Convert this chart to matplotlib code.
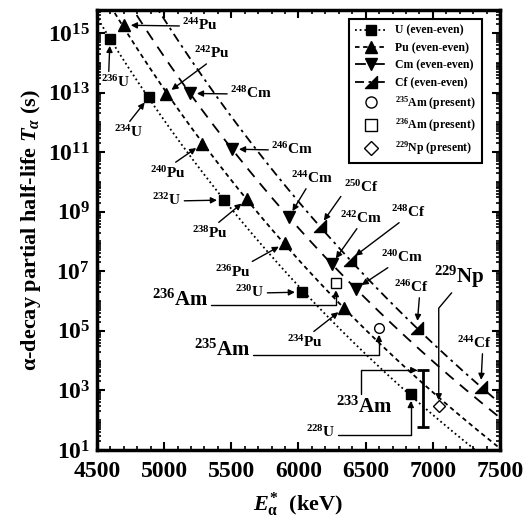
import numpy as np
import matplotlib.pyplot as plt
from matplotlib.lines import Line2D
from matplotlib.path import Path
from matplotlib.ticker import LogLocator, MultipleLocator, NullFormatter

plt.rcParams['font.family'] = 'Liberation Serif'
plt.rcParams['font.weight'] = 'bold'
plt.rcParams['mathtext.fontset'] = 'custom'
plt.rcParams['mathtext.rm'] = 'Liberation Serif:bold'
plt.rcParams['mathtext.bf'] = 'Liberation Serif:bold'
plt.rcParams['mathtext.it'] = 'Liberation Serif:bold:italic'

# even-even nuclei: alpha energy (keV) and log10 of partial half-life (s)
U_A = [236, 234, 232, 230, 228]
U_E = [4597, 4887, 5445, 6025, 6836]
U_logT = [14.80, 12.85, 9.39, 6.30, 2.88]

Pu_A = [244, 242, 240, 238, 236, 234]
Pu_E = [4700, 5013, 5281, 5616, 5899, 6338]
Pu_logT = [15.26, 12.95, 11.27, 9.42, 7.94, 5.77]

Cm_A = [248, 246, 244, 242, 240]
Cm_E = [5192, 5505, 5928, 6248, 6427]
Cm_logT = [12.97, 11.10, 8.82, 7.24, 6.41]

Cf_A = [250, 248, 246, 244]
Cf_E = [6159, 6382, 6881, 7357]
Cf_logT = [8.51, 7.38, 5.10, 3.12]

# present results
Am235_E, Am235_logT = 6598, 5.10
Am236_E, Am236_logT = 6278, 6.60
Np229_E, Np229_logT = 7044, 2.48
Am233_E, Am233_logT_lo, Am233_logT_hi = 6926, 1.77, 3.68

cf_marker = Path([(-1, -1), (1, -1), (1, 1), (-1, -1)],
                 [Path.MOVETO, Path.LINETO, Path.LINETO, Path.CLOSEPOLY])

fig = plt.figure(figsize=(5.24, 5.27), dpi=100)
ax = fig.add_axes([97 / 524, 77 / 527, 403 / 524, 440 / 527])

families = [
    ("U", U_E, U_logT, 's', 7.5, (1, 1.6)),
    ("Pu", Pu_E, Pu_logT, '^', 8, (2.5, 2)),
    ("Cm", Cm_E, Cm_logT, 'v', 8, (6, 4.5)),
    ("Cf", Cf_E, Cf_logT, cf_marker, 9, (5, 2.5, 1.5, 2.5)),
]

handles = []
Eg = np.linspace(4400, 7600, 400)
for name, E, logT, mk, ms, dash in families:
    coef = np.polyfit(1 / np.sqrt(E), logT, 1)
    ax.plot(Eg, 10 ** np.polyval(coef, 1 / np.sqrt(Eg)), color='k', lw=1.3,
            ls=(0, dash))
    ax.plot(E, 10 ** np.array(logT), ls='none', marker=mk, ms=ms, color='k')
    handles.append(Line2D([], [], color='k', lw=1.3, ls=(0, dash), marker=mk, ms=ms,
                          label=f"{name} (even-even)"))

ax.plot(Am235_E, 10 ** Am235_logT, marker='o', ms=7, mfc='white', mec='k', mew=1, ls='none')
ax.plot(Am236_E, 10 ** Am236_logT, marker='s', ms=7, mfc='white', mec='k', mew=1, ls='none')
ax.plot(Np229_E, 10 ** Np229_logT, marker='D', ms=6.5, mfc='white', mec='k', mew=1, ls='none')
handles.append(Line2D([], [], marker='o', ms=8, mfc='white', mec='k', ls='none',
                      label=r"$^{235}$Am (present)"))
handles.append(Line2D([], [], marker='s', ms=8, mfc='white', mec='k', ls='none',
                      label=r"$^{236}$Am (present)"))
handles.append(Line2D([], [], marker='D', ms=7, mfc='white', mec='k', ls='none',
                      label=r"$^{229}$Np (present)"))

# 233Am limits
lo, hi = 10 ** Am233_logT_lo, 10 ** Am233_logT_hi
mid = np.sqrt(lo * hi)
ax.errorbar([Am233_E], [mid], yerr=[[mid - lo], [hi - mid]], fmt='none', ecolor='k',
            elinewidth=2, capsize=4.5, capthick=2)


def label(text, xy, xytext, size=11, relpos=(0.5, 0.5), cs="arc3", shrinkB=5):
    ax.annotate(text, xy=xy, xytext=xytext, ha='center', va='center', fontsize=size,
                fontweight='bold',
                arrowprops=dict(arrowstyle='-|>', color='k', lw=1, mutation_scale=9,
                                shrinkA=0, shrinkB=shrinkB, connectionstyle=cs,
                                relpos=relpos))


def pt(E, logT, i):
    return (E[i], 10 ** logT[i])


# text position (keV, log10 s) and arrow start on the text box
U_txt = [((4641, 13.35), (0.25, 1)), ((4738, 11.67), (0.45, 1)), ((5021, 9.39), (1, 0.45)),
         ((5639, 6.30), (1, 0.45))]
for i, (p, rp) in enumerate(U_txt):
    label(rf"$^{{{U_A[i]}}}$U", pt(U_E, U_logT, i), (p[0], 10 ** p[1]), relpos=rp)
label(rf"$^{{{U_A[4]}}}$U", pt(U_E, U_logT, 4), (6167, 10 ** 1.60), relpos=(1, 0.35),
      cs="angle,angleA=0,angleB=90,rad=0")

Pu_txt = [((5267, 15.26), (0, 0.45)), ((5356, 14.32), (0.45, 0)), ((5029, 10.30), (0.6, 1)),
          ((5341, 8.28), (0.65, 1)), ((5512, 6.97), (0.9, 1)), ((6048, 4.62), (0.65, 1))]
for i, (p, rp) in enumerate(Pu_txt):
    label(rf"$^{{{Pu_A[i]}}}$Pu", pt(Pu_E, Pu_logT, i), (p[0], 10 ** p[1]), relpos=rp)

Cm_txt = [((5646, 12.98), (0, 0.45)), ((5952, 11.10), (0, 0.45)), ((6100, 10.13), (0.4, 0)),
          ((6465, 8.79), (0.45, 0)), ((6770, 7.48), (0.35, 0.15))]
for i, (p, rp) in enumerate(Cm_txt):
    label(rf"$^{{{Cm_A[i]}}}$Cm", pt(Cm_E, Cm_logT, i), (p[0], 10 ** p[1]), relpos=rp)

Cf_txt = [((6465, 9.83), (0, 0.15)), ((6815, 8.99), (0.35, 0)), ((6837, 6.47), (0.75, 0)),
          ((7306, 4.59), (0.75, 0))]
for i, (p, rp) in enumerate(Cf_txt):
    label(rf"$^{{{Cf_A[i]}}}$Cf", pt(Cf_E, Cf_logT, i), (p[0], 10 ** p[1]), relpos=rp)

label(r"$^{236}$Am", (Am236_E, 10 ** Am236_logT), (5118, 10 ** 6.03), size=15,
      relpos=(1, 0.25), cs="angle,angleA=0,angleB=90,rad=0")
label(r"$^{235}$Am", (Am235_E, 10 ** Am235_logT), (5430, 10 ** 4.36), size=15,
      relpos=(1, 0.25), cs="angle,angleA=0,angleB=90,rad=0")
label(r"$^{233}$Am", (Am233_E, hi), (6488, 10 ** 2.44), size=15,
      relpos=(0.44, 1), cs="angle,angleA=90,angleB=0,rad=0", shrinkB=4)
label(r"$^{229}$Np", (Np229_E, 10 ** Np229_logT), (7195, 10 ** 6.81), size=15,
      relpos=(0.4, 0), cs="angle,angleA=-130,angleB=90,rad=0", shrinkB=4)

ax.set_yscale('log')
ax.set_xlim(4500, 7500)
ax.set_ylim(10, 10 ** 15.77)
ax.set_yticks([10 ** k for k in range(1, 16, 2)])
ax.yaxis.set_minor_locator(LogLocator(base=10, subs=np.arange(1, 10), numticks=40))
ax.yaxis.set_minor_formatter(NullFormatter())
ax.xaxis.set_major_locator(MultipleLocator(500))
ax.xaxis.set_minor_locator(MultipleLocator(100))
ax.tick_params(which='both', direction='in', top=True, right=True, labelsize=17)
ax.tick_params(which='major', length=6, width=1.5)
ax.tick_params(which='minor', length=3, width=1.2)
ax.tick_params(axis='x', which='major', pad=8)
ax.tick_params(axis='y', which='major', pad=5)
for s in ax.spines.values():
    s.set_linewidth(2.5)

ax.set_xlabel(r"$E^{*}_{\mathrm{\alpha}}$  (keV)", fontsize=16, fontweight='bold', labelpad=6)
ax.set_ylabel(r"α-decay partial half-life $T_{\alpha}$ (s)", fontsize=16, fontweight='bold')

leg = ax.legend(handles=handles, loc='upper right', bbox_to_anchor=(0.955, 0.98),
                borderaxespad=0, fontsize=8.5, frameon=True, fancybox=False,
                edgecolor='k', framealpha=1, handlelength=2.6, labelspacing=0.45,
                borderpad=0.5)
leg.get_frame().set_linewidth(1.5)

fig.savefig("out.png", dpi=100)
